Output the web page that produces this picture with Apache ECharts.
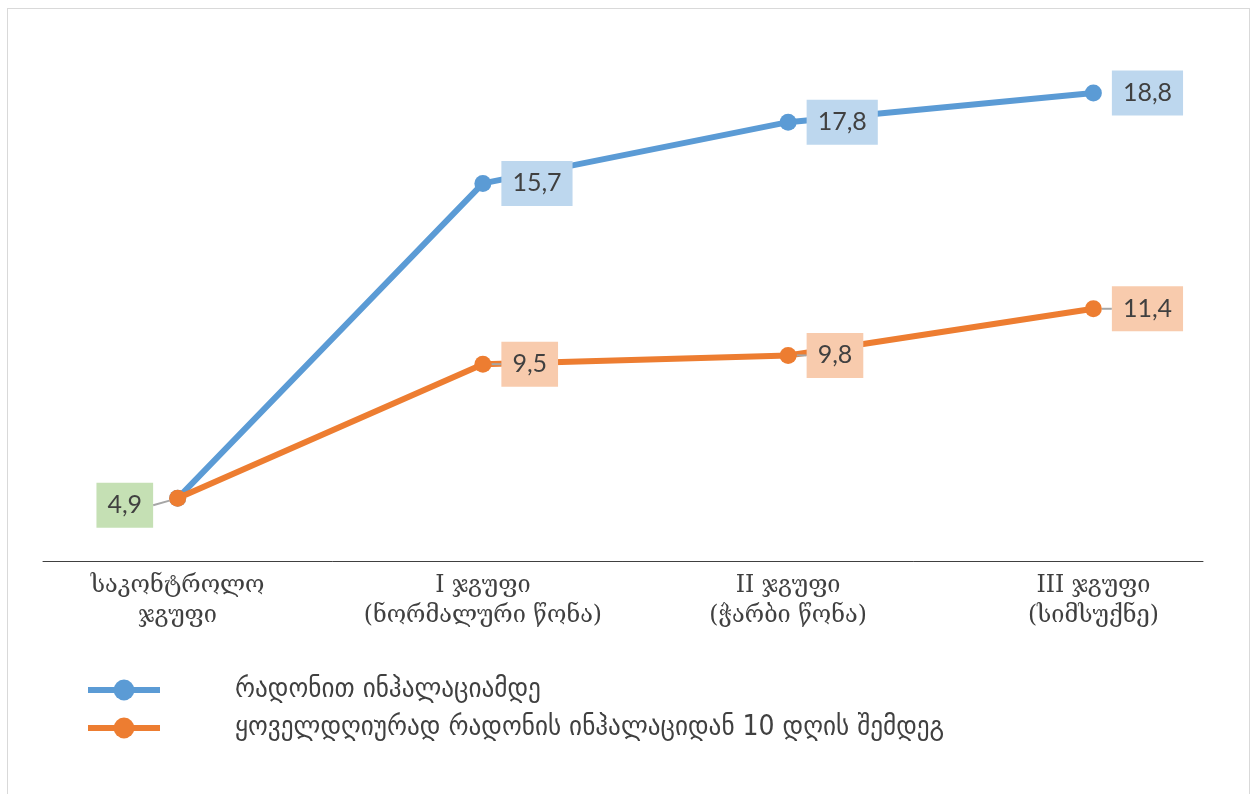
<!DOCTYPE html>
<html><head><meta charset="utf-8">
<script src="https://cdn.jsdelivr.net/npm/echarts@6/dist/echarts.min.js"></script>
<style>
html,body{margin:0;padding:0;background:#fff;}
#c{width:1256px;height:794px;}
#frame{position:absolute;left:7px;top:8px;width:1241px;height:800px;border:1px solid #D9D9D9;pointer-events:none;}
</style></head>
<body><div id="c"></div><div id="frame"></div>
<script>
const categories = ['საკონტროლო\nჯგუფი', 'I ჯგუფი\n(ნორმალური წონა)', 'II ჯგუფი\n(ჭარბი წონა)', 'III ჯგუფი\n(სიმსუქნე)'];
const seriesNames = ['რადონით ინჰალაციამდე', 'ყოველდღიურად რადონის ინჰალაციდან 10 დღის შემდეგ'];
const before = [4.9, 15.7, 17.8, 18.8];
const after = [4.9, 9.5, 9.8, 11.4];

const numFont = 'Lato, "Open Sans", sans-serif';
function fmt(v){ return String(v).replace('.', ','); }

const chart = echarts.init(document.getElementById('c'));
chart.setOption({
  animation: false,
  grid: [
    {left: 25, right: 10, top: 58, bottom: 233},
    {left: 43, right: 53, top: 58, bottom: 233}
  ],
  xAxis: [
    {type: 'category', gridIndex: 0, data: categories, boundaryGap: true,
     axisLine: {show: false}, axisTick: {show: false},
     axisLabel: {interval: 0, fontFamily: '"DejaVu Serif", serif', fontSize: 23.5, color: '#404040', lineHeight: 30, margin: 10}},
    {type: 'category', gridIndex: 1, data: categories, axisLabel: {show: false}, axisTick: {show: false},
     axisLine: {show: true, lineStyle: {color: '#404040', width: 1}}}
  ],
  yAxis: [
    {type: 'value', gridIndex: 0, min: 2.75, max: 20, show: false, splitLine: {show: false}},
    {type: 'value', gridIndex: 1, min: 0, max: 1, show: false, splitLine: {show: false}}
  ],
  legend: {
    orient: 'vertical', left: 80, top: 671, itemWidth: 72, itemHeight: 26, itemGap: 10,
    lineStyle: {width: 6},
    textStyle: {fontFamily: '"DejaVu Sans Condensed", "DejaVu Sans", sans-serif', fontSize: 28, color: '#404040', padding: [0, 0, 0, 70]},
    data: seriesNames
  },
  series: [
    {name: seriesNames[0], type: 'line', data: before.map((v, i) => i === 0 ? {value: v, label: {show: false}} : v),
     symbol: 'circle', symbolSize: 17, z: 2,
     lineStyle: {width: 6, color: '#5B9BD5'}, itemStyle: {color: '#5B9BD5'},
     label: {show: true, position: 'right', distance: 10, formatter: p => fmt(p.value),
       backgroundColor: '#BDD7EE', padding: [11, 11, 9, 11], fontFamily: numFont, fontSize: 25, color: '#404040'}},
    {name: seriesNames[1], type: 'line',
     data: after.map((v, i) => i === 0 ? {value: v, label: {backgroundColor: '#C5E0B4', position: 'left'}} : v),
     symbol: 'circle', symbolSize: 17, z: 3,
     lineStyle: {width: 6, color: '#ED7D31'}, itemStyle: {color: '#ED7D31'},
     label: {show: true, position: 'right', distance: 10, formatter: p => fmt(p.value),
       backgroundColor: '#F8CBAD', padding: [11, 11, 9, 11], fontFamily: numFont, fontSize: 25, color: '#404040'},
     labelLine: {show: true, smooth: false, lineStyle: {color: '#A6A6A6', width: 2}},
     labelLayout: function(p){ if (p.dataIndex === 0) { return {dx: -6, dy: 7}; } return {}; }
    }
  ]
});
</script></body></html>
